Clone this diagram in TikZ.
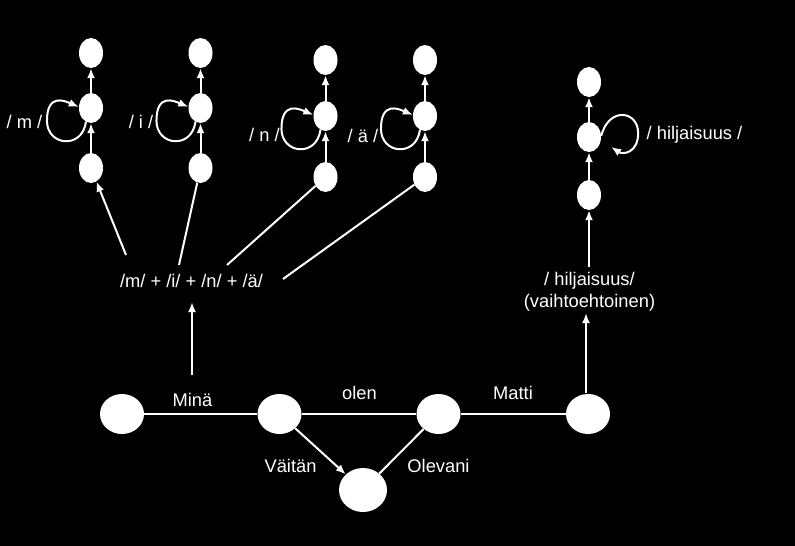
\documentclass[tikz,border=0pt]{standalone}
\usepackage{fontspec}
\setmainfont{Liberation Sans}
\usetikzlibrary{arrows.meta,shapes.geometric}
\begin{document}
\begin{tikzpicture}[x=1pt,y=-1pt,
  lbl/.style={text=white,font=\fontsize{18.3}{22}\selectfont,inner sep=0pt,anchor=base},
  st/.style={ellipse,fill=white,inner sep=0pt,minimum width=24pt,minimum height=30pt},
  big/.style={ellipse,fill=white,inner sep=0pt,minimum width=44pt,minimum height=40pt},
  ln/.style={draw=white,line width=2pt},
  arr/.style={ln,-{Latex[length=10pt,width=8pt]}}]
\fill[black] (0,0) rectangle (795,546);
% columns
\foreach \n/\x/\yt/\ym/\yb in {1/91/53/108/168, 2/200.5/53/108/168, 3/325.5/60/116/177, 4/425/60/116/177, 5/589/82/137/195}{
  \node[st] (t\n) at (\x,\yt) {};
  \node[st] (m\n) at (\x,\ym) {};
  \node[st] (b\n) at (\x,\yb) {};
  \draw[arr] (b\n.north) -- (m\n.south);
  \draw[arr] (m\n.north) -- (t\n.south);
}
% left self loops
\foreach \n in {1,2,3,4}{
  \draw[arr] (m\n.-110) .. controls +(-4,28) and +(0,25) .. ++(-39,-1)
     .. controls +(0,-28) and +(-14,-6) .. (m\n.175);
}
% right self loop
\draw[arr] (m5.5) .. controls +(8,-30) and +(0,-22) .. ++(37,-3)
   .. controls +(0,20) and +(12,8) .. ++(-27,14);
% loop labels
\node[lbl] (lm) at (24.5,128) {/ m /};
\node[lbl] (li) at (141,128) {/ i /};
\node[lbl] (ln) at (264.5,141) {/ n /};
\node[lbl] (la) at (363,142) {/ ä /};
\node[lbl] (lh) at (694.5,139) {/ hiljaisuus /};
% phoneme text
\node[lbl] (ph) at (191.5,287) {/m/ + /i/ + /n/ + /ä/};
\coordinate (p1) at (126,255);
\coordinate (p2) at (179,265);
\coordinate (p3) at (227,265);
\coordinate (p4) at (283,279);
\draw[arr] (p1) -- (b1);
\draw[ln] (p2) -- (b2);
\draw[ln] (p3) -- (b3);
\draw[ln] (p4) -- (b4);
% hiljaisuus text
\node[lbl,align=center] (hil) at (589.5,307) {/ hiljaisuus/\\(vaihtoehtoinen)};
\coordinate (h1) at (589,267);
\draw[arr] (h1) -- (b5);
% bottom graph
\node[big] (n1) at (122,414) {};
\node[big] (n2) at (279.5,414) {};
\node[big] (n3) at (438.5,414) {};
\node[big] (n4) at (588,414) {};
\node[big,minimum width=48pt,minimum height=44pt] (n5) at (363,490) {};
\draw[ln] (n1) -- (n2);
\draw[ln] (n2) -- (n3);
\draw[ln] (n3) -- (n4);
\draw[arr] (n2) -- (n5);
\draw[ln] (n3) -- (n5);
\node[lbl] (lmina) at (192.5,406) {Minä};
\node[lbl] (lolen) at (359.5,399) {olen};
\node[lbl] (lmatti) at (513,399) {Matti};
\node[lbl] (lvaitan) at (290.5,472) {Väitän};
\node[lbl] (lolevani) at (438.5,472) {Olevani};
% upward arrows from edges
\coordinate (e1) at (192,375);
\coordinate (e1t) at (192,302);
\draw[arr] (e1) -- (e1t);
\coordinate (e2) at (586,393);
\coordinate (e2t) at (586,313);
\draw[arr] (e2) -- (e2t);
\end{tikzpicture}
\end{document}
